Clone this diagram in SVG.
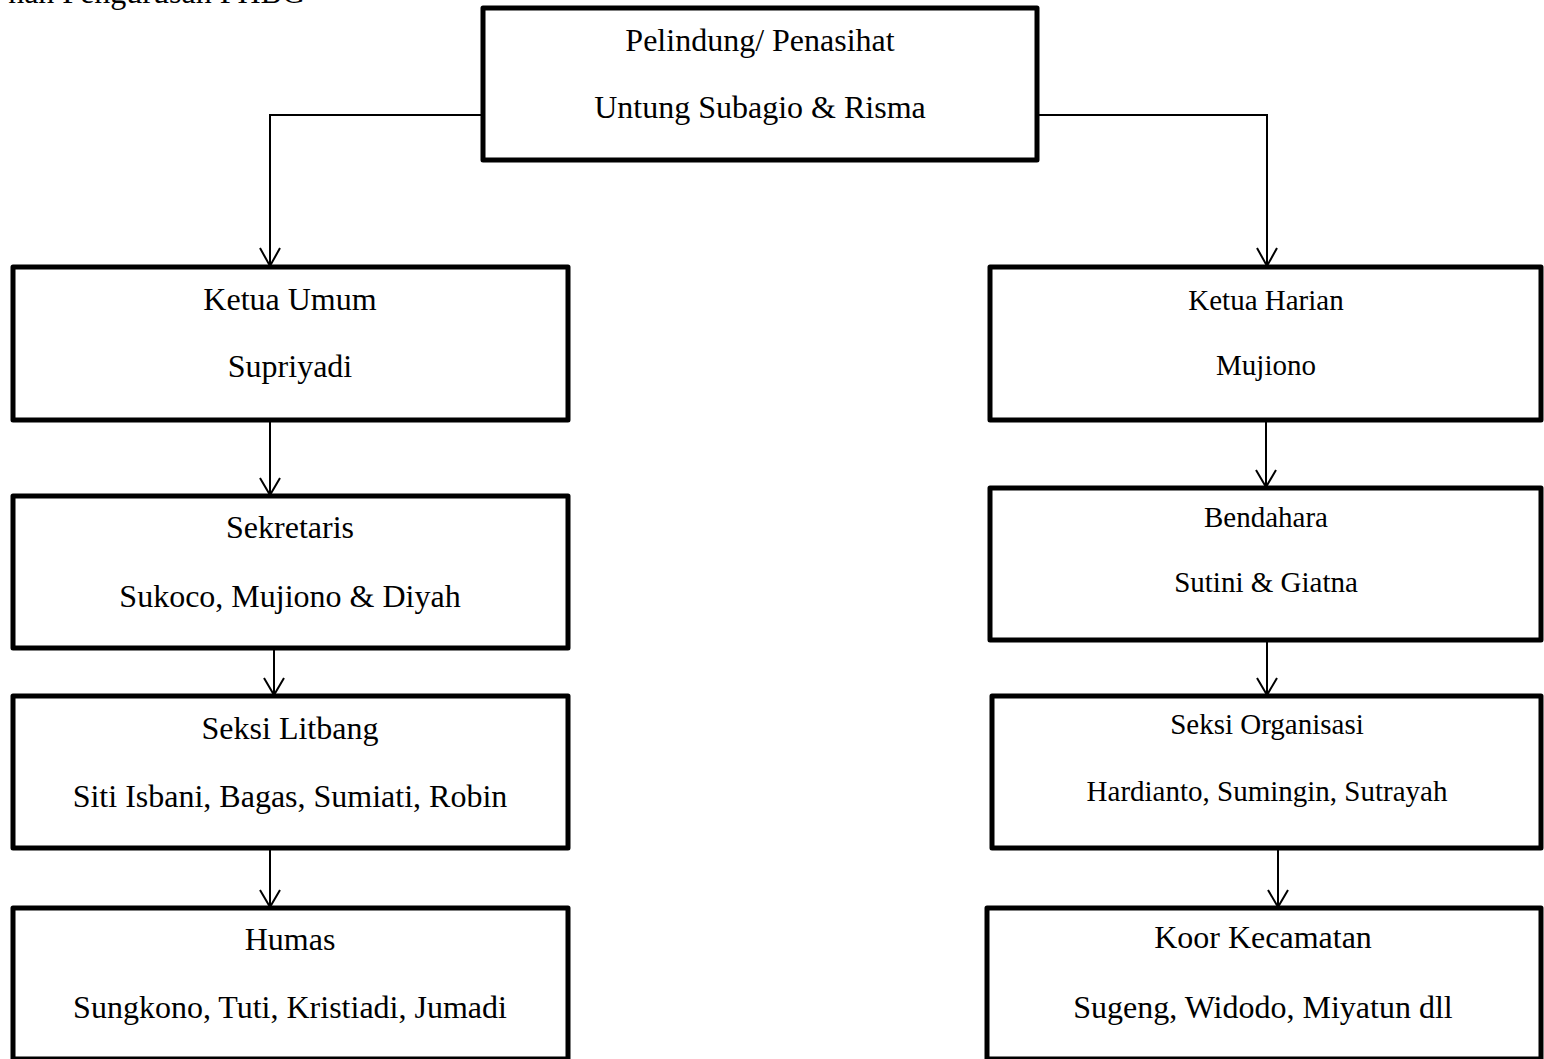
<svg xmlns="http://www.w3.org/2000/svg" width="1544" height="1059" viewBox="0 0 1544 1059">
<style>
.box{fill:#fff;stroke:#000;stroke-width:5;stroke-linejoin:round}
.t{font-family:"Liberation Serif","Times New Roman",serif;font-size:32px;fill:#000;text-anchor:middle}
.s{font-size:29px}
.c{fill:none;stroke:#000;stroke-width:2}
</style>
<defs>
<marker id="arr" markerWidth="24" markerHeight="20" refX="11" refY="18" orient="auto-start-reverse" markerUnits="userSpaceOnUse" viewBox="0 0 24 20">
<path d="M1,1 L11,18 L21,1" fill="none" stroke="#000" stroke-width="2"/>
</marker>
</defs>
<rect width="1544" height="1059" fill="#fff"/>
<text class="t" x="305" y="3" style="text-anchor:end">nan Pengurusan PHBG</text>

<g id="connectors">
<path class="c" d="M483,115 H270 V265"/>
<path class="c" d="M1037,115 H1267 V265"/>
<line class="c" x1="270" y1="420" x2="270" y2="494"/>
<line class="c" x1="274" y1="648" x2="274" y2="694"/>
<line class="c" x1="270" y1="848" x2="270" y2="906"/>
<line class="c" x1="1266" y1="420" x2="1266" y2="486"/>
<line class="c" x1="1267" y1="640" x2="1267" y2="694"/>
<line class="c" x1="1278" y1="848" x2="1278" y2="906"/>
</g>
<g id="arrowheads" fill="none" stroke="#000" stroke-width="2">
<path d="M260,248 L270,266 L280,248"/>
<path d="M1257,248 L1267,266 L1277,248"/>
<path d="M260,478 L270,495 L280,478"/>
<path d="M264,678 L274,695 L284,678"/>
<path d="M260,890 L270,907 L280,890"/>
<path d="M1256,470 L1266,487 L1276,470"/>
<path d="M1257,678 L1267,695 L1277,678"/>
<path d="M1268,890 L1278,907 L1288,890"/>
</g>

<g id="n-pelindung">
<rect class="box" x="483" y="8" width="554" height="152"/>
<text class="t" x="760" y="51">Pelindung/ Penasihat</text>
<text class="t" x="760" y="118">Untung Subagio &amp; Risma</text>
</g>
<g id="n-ketua-umum">
<rect class="box" x="13" y="267" width="555" height="153"/>
<text class="t" x="290" y="310">Ketua Umum</text>
<text class="t" x="290" y="377">Supriyadi</text>
</g>
<g id="n-sekretaris">
<rect class="box" x="13" y="496" width="555" height="152"/>
<text class="t" x="290" y="538">Sekretaris</text>
<text class="t" x="290" y="607">Sukoco, Mujiono &amp; Diyah</text>
</g>
<g id="n-litbang">
<rect class="box" x="13" y="696" width="555" height="152"/>
<text class="t" x="290" y="739">Seksi Litbang</text>
<text class="t" x="290" y="807">Siti Isbani, Bagas, Sumiati, Robin</text>
</g>
<g id="n-humas">
<rect class="box" x="13" y="908" width="555" height="151"/>
<text class="t" x="290" y="950">Humas</text>
<text class="t" x="290" y="1018">Sungkono, Tuti, Kristiadi, Jumadi</text>
</g>
<g id="n-ketua-harian">
<rect class="box" x="990" y="267" width="551" height="153"/>
<text class="t s" x="1266" y="310">Ketua Harian</text>
<text class="t s" x="1266" y="375">Mujiono</text>
</g>
<g id="n-bendahara">
<rect class="box" x="990" y="488" width="551" height="152"/>
<text class="t s" x="1266" y="527">Bendahara</text>
<text class="t s" x="1266" y="592">Sutini &amp; Giatna</text>
</g>
<g id="n-organisasi">
<rect class="box" x="992" y="696" width="549" height="152"/>
<text class="t s" x="1267" y="734">Seksi Organisasi</text>
<text class="t s" x="1267" y="801">Hardianto, Sumingin, Sutrayah</text>
</g>
<g id="n-koor">
<rect class="box" x="987" y="908" width="554" height="151"/>
<text class="t" x="1263" y="948">Koor Kecamatan</text>
<text class="t" x="1263" y="1018">Sugeng, Widodo, Miyatun dll</text>
</g>
</svg>
